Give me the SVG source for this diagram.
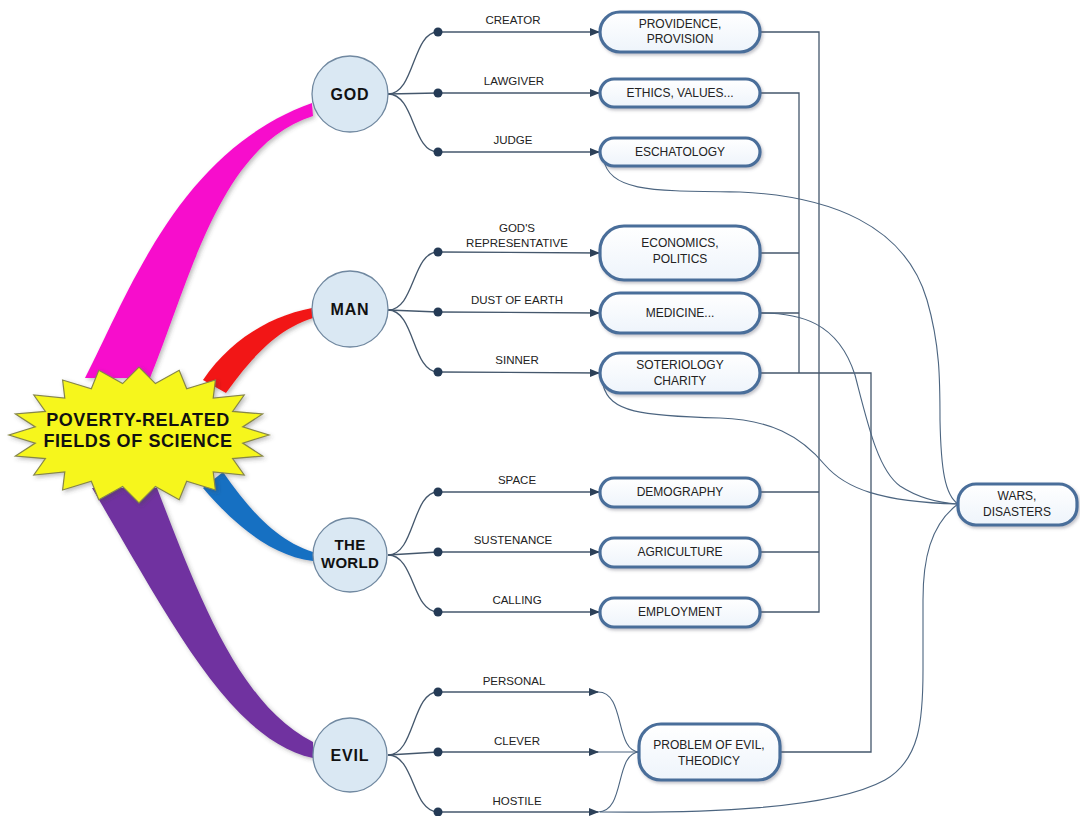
<svg xmlns="http://www.w3.org/2000/svg" width="1080" height="816" viewBox="0 0 1080 816">
<defs>
<style>
.lbl{font-family:"Liberation Sans",Arial,sans-serif;font-size:11.5px;fill:#222;text-anchor:middle}
.btxt{font-family:"Liberation Sans",Arial,sans-serif;font-size:12px;fill:#222;text-anchor:middle}
.ctxt{font-family:"Liberation Sans",Arial,sans-serif;font-size:16px;font-weight:bold;fill:#111;text-anchor:middle;letter-spacing:0.8px}
.box{fill:url(#boxg);stroke:#4a6e9a;stroke-width:3.2;filter:url(#sh)}
.circ{fill:#dae8f3;stroke:#7088a0;stroke-width:1.3}
.ln{fill:none;stroke:#44576c;stroke-width:1.3}
.thin{fill:none;stroke:#4c6580;stroke-width:1.1}
.dot{fill:#243a55}
</style>
<linearGradient id="boxg" x1="0" y1="0" x2="0" y2="1">
<stop offset="0" stop-color="#ffffff"/>
<stop offset="1" stop-color="#eef4fb"/>
</linearGradient>
<filter id="sh" x="-20%" y="-30%" width="140%" height="170%">
<feDropShadow dx="1.5" dy="2" stdDeviation="1.5" flood-color="#556" flood-opacity="0.35"/>
</filter>
<filter id="sh2" x="-20%" y="-20%" width="140%" height="140%">
<feDropShadow dx="2" dy="2" stdDeviation="2" flood-color="#444" flood-opacity="0.35"/>
</filter>
<marker id="arr" markerWidth="10" markerHeight="8" refX="9" refY="4" orient="auto" markerUnits="userSpaceOnUse">
<path d="M0,0 L10,4 L0,8 Z" fill="#2c4058"/>
</marker>
</defs>
<rect width="1080" height="816" fill="#ffffff"/>

<g id="branches" filter="url(#sh2)">
<path d="M85,378 C130,290 180,150 312,103 L313,116 C220,145 190,280 150,378 Z" fill="#f70fcc"/>
<path d="M203,380 C230,340 270,316 312,308 L313,318 C275,330 250,360 226,393 Z" fill="#f21616"/>
<path d="M223,472 C248,508 275,540 313,552 L313,561 C270,556 232,522 203,488 Z" fill="#176fc2"/>
<path d="M157,488 C200,600 240,705 313,742 L313,758 C230,740 170,620 92,488 Z" fill="#7030a0"/>
</g>

<g id="center">
<polygon points="269,435 242.7,443.1 262.6,456 232.6,458.6 244.2,475 213.2,471.8 215.4,490 186.7,481.3 179.2,499.7 155.4,486.4 139,503 122.6,486.4 98.8,499.7 91.3,481.3 62.6,490 64.8,471.8 33.8,475 45.4,458.6 15.4,456 35.3,443.1 9,435 35.3,426.9 15.4,414 45.4,411.4 33.8,395 64.8,398.2 62.6,380 91.3,388.7 98.8,370.3 122.6,383.6 139,367 155.4,383.6 179.2,370.3 186.7,388.7 215.4,380 213.2,398.2 244.2,395 232.6,411.4 262.6,414 242.7,426.9" fill="#f6f61c" stroke="#86864a" stroke-width="1.2" filter="url(#sh2)"/>
<text x="138" y="426" font-family="Liberation Sans,Arial,sans-serif" font-size="18" font-weight="bold" fill="#111" text-anchor="middle" letter-spacing="0.6">POVERTY-RELATED</text>
<text x="138" y="447" font-family="Liberation Sans,Arial,sans-serif" font-size="18" font-weight="bold" fill="#111" text-anchor="middle" letter-spacing="0.6">FIELDS OF SCIENCE</text>
</g>

<g id="connectors">
<!-- GOD fan -->
<path class="ln" d="M388,94 C415,94 412,32 438,32"/>
<path class="ln" d="M388,94 L438,93"/>
<path class="ln" d="M388,94 C415,94 412,152 438,152"/>
<path class="ln" d="M438,32 L599,32" marker-end="url(#arr)"/>
<path class="ln" d="M438,93 L599,93" marker-end="url(#arr)"/>
<path class="ln" d="M438,152 L599,152" marker-end="url(#arr)"/>
<!-- MAN fan -->
<path class="ln" d="M388,310 C415,310 412,252 438,252"/>
<path class="ln" d="M388,310 L438,312"/>
<path class="ln" d="M388,310 C415,310 412,372 438,372"/>
<path class="ln" d="M438,252 L599,253" marker-end="url(#arr)"/>
<path class="ln" d="M438,312 L599,313" marker-end="url(#arr)"/>
<path class="ln" d="M438,372 L599,373" marker-end="url(#arr)"/>
<!-- WORLD fan -->
<path class="ln" d="M388,555 C415,555 412,492 438,492"/>
<path class="ln" d="M388,555 L438,552"/>
<path class="ln" d="M388,555 C415,555 412,612 438,612"/>
<path class="ln" d="M438,492 L599,492" marker-end="url(#arr)"/>
<path class="ln" d="M438,552 L599,552" marker-end="url(#arr)"/>
<path class="ln" d="M438,612 L599,612" marker-end="url(#arr)"/>
<!-- EVIL fan -->
<path class="ln" d="M388,755 C415,755 412,692 438,692"/>
<path class="ln" d="M388,755 L438,752"/>
<path class="ln" d="M388,755 C415,755 412,812 438,812"/>
<path class="ln" d="M438,692 L598,692" marker-end="url(#arr)"/>
<path class="ln" d="M438,752 L598,752" marker-end="url(#arr)"/>
<path class="ln" d="M438,812 L598,812" marker-end="url(#arr)"/>
<path class="thin" d="M598,692 C626,692 614,752 640,752"/>
<path class="thin" d="M598,752 L640,752"/>
<path class="thin" d="M598,812 C626,812 614,752 640,752"/>
<!-- right side orthogonal -->
<path class="ln" d="M760,32 H819 V612 H760"/>
<path class="ln" d="M760,492 H819"/>
<path class="ln" d="M760,552 H819"/>
<path class="ln" d="M760,93 H799 V373"/>
<path class="ln" d="M760,253 H799"/>
<path class="ln" d="M760,313 H799"/>
<path class="ln" d="M760,373 H871 V752 H780"/>
<!-- curves to WARS -->
<path class="thin" d="M603,158 C610,192 650,191 740,192 C830,196 905,225 927,300 C940,345 940,380 940,420 C941,470 945,495 958,504"/>
<path class="thin" d="M760,313 C800,313 838,322 855,375 C868,425 878,470 900,486 C920,499 940,503 958,504"/>
<path class="thin" d="M603,385 C610,412 640,416 720,418 C770,420 800,435 825,465 C845,488 880,502 958,504"/>
<path class="thin" d="M600,812 C700,813 830,810 885,780 C920,760 923,720 923,670 L923,600 C923,560 930,525 958,504"/>
<!-- dots -->
<circle class="dot" cx="438" cy="32" r="4.5"/>
<circle class="dot" cx="438" cy="93" r="4.5"/>
<circle class="dot" cx="438" cy="152" r="4.5"/>
<circle class="dot" cx="438" cy="252" r="4.5"/>
<circle class="dot" cx="438" cy="312" r="4.5"/>
<circle class="dot" cx="438" cy="372" r="4.5"/>
<circle class="dot" cx="438" cy="492" r="4.5"/>
<circle class="dot" cx="438" cy="552" r="4.5"/>
<circle class="dot" cx="438" cy="612" r="4.5"/>
<circle class="dot" cx="438" cy="692" r="4.5"/>
<circle class="dot" cx="438" cy="752" r="4.5"/>
<circle class="dot" cx="438" cy="812" r="4.5"/>
<!-- edge labels -->
<text class="lbl" x="513" y="24">CREATOR</text>
<text class="lbl" x="514" y="85">LAWGIVER</text>
<text class="lbl" x="513" y="144">JUDGE</text>
<text class="lbl" x="517" y="232">GOD'S</text>
<text class="lbl" x="517" y="247">REPRESENTATIVE</text>
<text class="lbl" x="517" y="304">DUST OF EARTH</text>
<text class="lbl" x="517" y="364">SINNER</text>
<text class="lbl" x="517" y="484">SPACE</text>
<text class="lbl" x="513" y="544">SUSTENANCE</text>
<text class="lbl" x="517" y="604">CALLING</text>
<text class="lbl" x="514" y="685">PERSONAL</text>
<text class="lbl" x="517" y="745">CLEVER</text>
<text class="lbl" x="517" y="805">HOSTILE</text>
</g>

<g id="god"><circle class="circ" cx="350" cy="94" r="38"/><text class="ctxt" x="350" y="100">GOD</text></g>
<g id="man"><circle class="circ" cx="350" cy="309" r="38"/><text class="ctxt" x="350" y="315">MAN</text></g>
<g id="world"><circle class="circ" cx="350" cy="555" r="37"/><text class="ctxt" x="350" y="550" style="font-size:15px;letter-spacing:0.3px">THE</text><text class="ctxt" x="350" y="568" style="font-size:15px;letter-spacing:0.3px">WORLD</text></g>
<g id="evil"><circle class="circ" cx="350" cy="755" r="37"/><text class="ctxt" x="350" y="761">EVIL</text></g>

<g id="providence"><rect class="box" x="600" y="12" width="160" height="40" rx="20"/><text class="btxt" x="680" y="28">PROVIDENCE,</text><text class="btxt" x="680" y="43">PROVISION</text></g>
<g id="ethics"><rect class="box" x="600" y="79" width="160" height="28" rx="14"/><text class="btxt" x="680" y="97">ETHICS, VALUES...</text></g>
<g id="eschatology"><rect class="box" x="600" y="138" width="160" height="28" rx="14"/><text class="btxt" x="680" y="156">ESCHATOLOGY</text></g>
<g id="economics"><rect class="box" x="600" y="226" width="160" height="54" rx="24"/><text class="btxt" x="680" y="247">ECONOMICS,</text><text class="btxt" x="680" y="263">POLITICS</text></g>
<g id="medicine"><rect class="box" x="600" y="293" width="160" height="40" rx="20"/><text class="btxt" x="680" y="317">MEDICINE...</text></g>
<g id="soteriology"><rect class="box" x="600" y="353" width="160" height="40" rx="20"/><text class="btxt" x="680" y="369">SOTERIOLOGY</text><text class="btxt" x="680" y="385">CHARITY</text></g>
<g id="demography"><rect class="box" x="600" y="478" width="160" height="29" rx="14"/><text class="btxt" x="680" y="496">DEMOGRAPHY</text></g>
<g id="agriculture"><rect class="box" x="600" y="538" width="160" height="29" rx="14"/><text class="btxt" x="680" y="556">AGRICULTURE</text></g>
<g id="employment"><rect class="box" x="600" y="598" width="160" height="29" rx="14"/><text class="btxt" x="680" y="616">EMPLOYMENT</text></g>
<g id="problem"><rect class="box" x="639" y="724" width="141" height="56" rx="22"/><text class="btxt" x="709" y="749">PROBLEM OF EVIL,</text><text class="btxt" x="709" y="765">THEODICY</text></g>
<g id="wars"><rect class="box" x="958" y="484" width="119" height="41" rx="18"/><text class="btxt" x="1017" y="500">WARS,</text><text class="btxt" x="1017" y="516">DISASTERS</text></g>
</svg>
